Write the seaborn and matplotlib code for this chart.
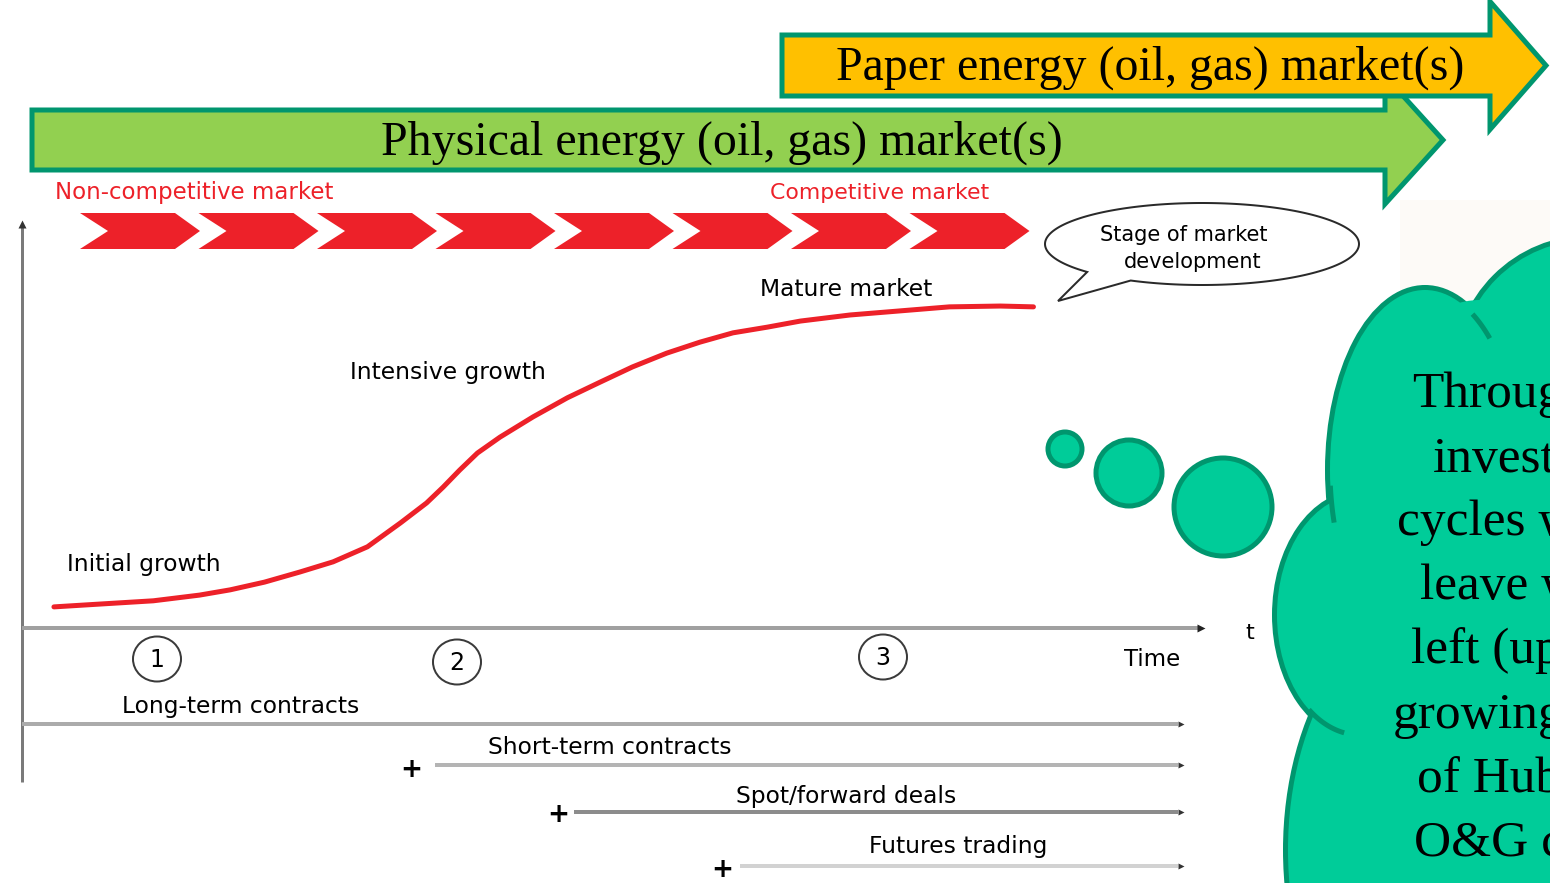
import numpy as np
import pandas as pd
import matplotlib
matplotlib.use("Agg")
import matplotlib.pyplot as plt
from matplotlib.patches import Polygon, Ellipse, Circle, Rectangle
import seaborn as sns

# ---------------------------------------------------------------- data
# market development curve: time (% of axis) vs. level of development (%)
time_pct = [2.7, 6.6, 11.1, 15.0, 17.6, 20.5, 23.5, 26.3, 29.2, 32.0, 34.2,
            35.6, 37.0, 38.5, 40.4, 43.2, 46.1, 48.9, 51.6, 54.5, 57.3, 60.1,
            63.0, 65.8, 70.0, 74.2, 78.4, 82.7, 85.5]
market_level = [5.2, 5.9, 6.7, 8.1, 9.4, 11.3, 13.8, 16.3, 20.0, 25.9, 30.8,
                34.7, 38.9, 43.1, 47.0, 52.0, 56.7, 60.6, 64.3, 67.7, 70.4,
                72.7, 74.1, 75.6, 77.1, 78.1, 79.1, 79.3, 79.1]

stage_labels = ["Initial growth", "Intensive growth", "Mature market"]
stage_numbers = ["1", "2", "3"]
market_bands = ["Physical energy (oil, gas) market(s)",
                "Paper energy (oil, gas) market(s)"]
competition_labels = ["Non-competitive market", "Competitive market"]
contract_types = ["Long-term contracts", "Short-term contracts",
                  "Spot/forward deals", "Futures trading"]
bubble_text = ["Stage of market", "development"]
cloud_lines = ["Through", "investment", "cycles we", "leave with",
               "left (upon", "growing", "of Hub", "O&G co"]

# ---------------------------------------------------------------- style
RED = "#ED2129"
GREEN_EDGE = "#00966E"
CLOUD_FILL = "#00CC99"
YELLOW = "#FFC000"
LIGHT_GREEN = "#92D050"
SERIF = ["Liberation Serif", "DejaVu Serif"]
SANS = ["DejaVu Sans"]

sns.set_style("white")
plt.rcParams["font.family"] = SANS
plt.rcParams["text.color"] = "black"

W, H = 1550, 883
PT = 72 / 100  # pixels -> points at 100 dpi

fig = plt.figure(figsize=(W / 100, H / 100), dpi=100)
ov = fig.add_axes([0, 0, 1, 1])
ov.set_xlim(0, W)
ov.set_ylim(H, 0)
ov.axis("off")

# faint tinted panel behind the cloud
ov.add_patch(Rectangle((1400, 200), 150, 683, fc="#FDFAF7", ec="none", zorder=0))


# ---------------------------------------------------------------- band arrows
def band_arrow(x0, x_head, x_tip, yc, body_half, head_half, face, z):
    pts = [(x0, yc - body_half), (x_head, yc - body_half), (x_head, yc - head_half),
           (x_tip, yc), (x_head, yc + head_half), (x_head, yc + body_half),
           (x0, yc + body_half)]
    ov.add_patch(Polygon(pts, closed=True, fc=face, ec=GREEN_EDGE, lw=5 * PT,
                         joinstyle="miter", zorder=z))


band_arrow(32, 1385, 1443, 140, 30, 64, LIGHT_GREEN, 2)
band_arrow(782, 1490, 1546, 65.5, 30.5, 64, YELLOW, 3)
ov.text(722, 143, market_bands[0], family=SERIF, fontsize=34.5,
        ha="center", va="center", zorder=4)
ov.text(1150, 68, market_bands[1], family=SERIF, fontsize=34.5,
        ha="center", va="center", zorder=4)

# ---------------------------------------------------------------- competition row
ov.text(55, 193, competition_labels[0], color=RED, fontsize=16.5, va="center")
ov.text(770, 193, competition_labels[1], color=RED, fontsize=15.8, va="center")
for i in range(8):
    x = 80 + i * 118.5
    pts = [(x, 213), (x + 95, 213), (x + 120, 231), (x + 95, 249), (x, 249),
           (x + 28, 231)]
    ov.add_patch(Polygon(pts, closed=True, fc=RED, ec="none", zorder=2))

# ---------------------------------------------------------------- axes lines
ov.plot([22, 22], [782, 226], color="#7a7a7a", lw=3 * PT, solid_capstyle="butt")
ov.plot(22, 224, marker="^", color="#333333", ms=6, mec="none")
ov.plot([22, 1198], [628, 628], color="#a0a0a0", lw=4 * PT, solid_capstyle="butt")
ov.plot(1201, 628, marker=">", color="#222222", ms=6, mec="none")
ov.text(1250, 633, "t", fontsize=16, ha="center", va="center")
ov.text(1152, 659, "Time", fontsize=16.5, ha="center", va="center")

# ---------------------------------------------------------------- development curve
ax = fig.add_axes([22 / W, (H - 628) / H, 1183 / W, 406 / H])
ax.patch.set_alpha(0)
curve = pd.DataFrame({"time": time_pct, "level": market_level})
sns.lineplot(data=curve, x="time", y="level", ax=ax, color=RED,
             linewidth=5 * PT, sort=False)
ax.set_xlim(0, 100)
ax.set_ylim(0, 100)
ax.axis("off")

stage_label_pos = [(67, 564), (350, 372), (760, 289)]
for (x, y), lab in zip(stage_label_pos, stage_labels):
    ov.text(x, y, lab, fontsize=16.8, ha="left", va="center")

stage_circle_pos = [(157, 659), (457, 662), (883, 657)]
for (x, y), num in zip(stage_circle_pos, stage_numbers):
    ov.add_patch(Ellipse((x, y), 48, 45, fill=False, ec="#3a3a3a", lw=2 * PT))
    ov.text(x, y + 1, num, fontsize=17, ha="center", va="center")

# ---------------------------------------------------------------- contract types
line_starts = [22, 435, 574, 740]
line_rows = [724, 765, 812, 866]
line_colors = ["#ababab", "#b4b4b4", "#8c8c8c", "#d2d2d2"]
label_pos = [(122, 707), (488, 748), (736, 796), (869, 847)]
plus_pos = [None, (411, 770), (558, 815), (722, 870)]
for name, x0, y, col, (lx, ly), pp in zip(contract_types, line_starts, line_rows,
                                          line_colors, label_pos, plus_pos):
    ov.plot([x0, 1178], [y, y], color=col, lw=4 * PT, solid_capstyle="butt")
    ov.plot(1181, y, marker=">", color="#333333", ms=5, mec="none")
    ov.text(lx, ly, name, fontsize=16.8, ha="left", va="center")
    if pp is not None:
        ov.text(pp[0], pp[1], "+", fontsize=19, fontweight="bold",
                ha="center", va="center")

# ---------------------------------------------------------------- speech bubble
cx, cy, a, b = 1202, 244, 157, 41
th = np.radians(np.linspace(137, 477, 200))
bubble = list(zip(cx + a * np.cos(th), cy + b * np.sin(th)))
bubble.append((1058, 301))
ov.add_patch(Polygon(bubble, closed=True, fc="white", ec="#2a2a2a", lw=2 * PT,
                     zorder=3))
ov.text(1184, 235, bubble_text[0], fontsize=15, ha="center", va="center", zorder=4)
ov.text(1193, 262, bubble_text[1], fontsize=15, ha="center", va="center", zorder=4)

# ---------------------------------------------------------------- thought circles
for (x, y), r in zip([(1065, 449), (1129, 473), (1223, 507)], [17, 33, 49]):
    ov.add_patch(Circle((x, y), r, fc=CLOUD_FILL, ec=GREEN_EDGE, lw=5 * PT, zorder=5))

# ---------------------------------------------------------------- cloud
lobes = [((1590, 372), 264, 264),   # top right
         ((1425, 470), 190, 360),   # upper left
         ((1360, 615), 166, 240),   # middle left
         ((1450, 850), 324, 500)]   # bottom
for (c, w, h) in lobes:
    ov.add_patch(Ellipse(c, w, h, fc=CLOUD_FILL, ec=GREEN_EDGE, lw=10 * PT, zorder=5))
for (c, w, h) in lobes:
    ov.add_patch(Ellipse(c, w, h, fc=CLOUD_FILL, ec="none", zorder=6))
ov.add_patch(Ellipse((1480, 600), 300, 600, fc=CLOUD_FILL, ec="none", zorder=6))
ov.add_patch(Rectangle((1480, 305), 80, 600, fc=CLOUD_FILL, ec="none", zorder=6))


def lobe_arc(center, w, h, t0, t1):
    t = np.radians(np.linspace(t0, t1, 40))
    ov.plot(center[0] + w / 2 * np.cos(t), center[1] + h / 2 * np.sin(t),
            color=GREEN_EDGE, lw=5 * PT, solid_capstyle="butt", zorder=7)


lobe_arc((1425, 470), 190, 360, -60, -47)
lobe_arc((1425, 470), 190, 360, 163, 175)
lobe_arc((1360, 615), 166, 240, 101, 128)

cloud_rows = [395, 460, 523, 587, 651, 716, 780, 843]
cloud_left = [1412, 1433, 1397, 1420, 1411, 1393, 1417, 1414]
for txt, x, y in zip(cloud_lines, cloud_left, cloud_rows):
    ov.text(x, y, txt, family=SERIF, fontsize=37, ha="left", va="center", zorder=8)

fig.savefig("out.png", dpi=100)
